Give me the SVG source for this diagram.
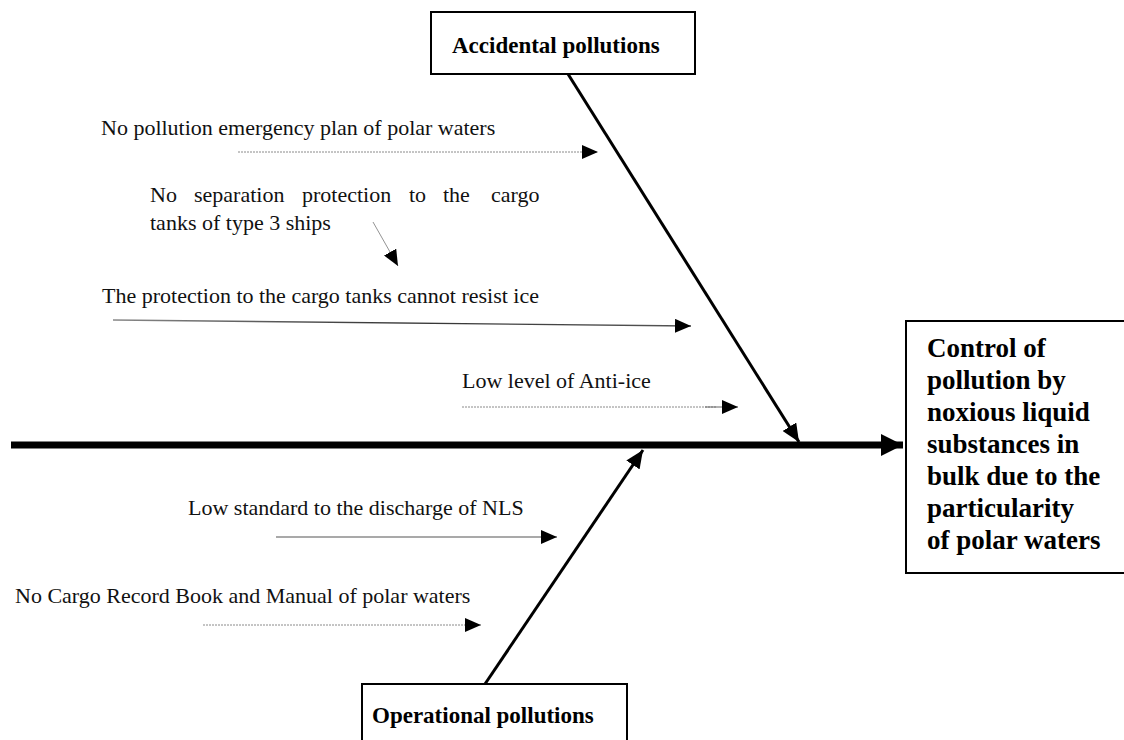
<svg xmlns="http://www.w3.org/2000/svg" width="1124" height="740" viewBox="0 0 1124 740">
  <style>
    .box { fill: #ffffff; stroke: #000000; stroke-width: 2; }
    .head { font-family: "Liberation Serif", "Times New Roman", serif; font-weight: bold; font-size: 23px; fill: #000; }
    .title { font-family: "Liberation Serif", "Times New Roman", serif; font-weight: bold; font-size: 27px; fill: #000; }
    .label { font-family: "Liberation Serif", "Times New Roman", serif; font-size: 22px; fill: #111; }
    .bone { stroke: #000; stroke-width: 3; fill: none; }
    .spine { stroke: #000; stroke-width: 7; fill: none; }
    .dotted { stroke: #8a8a8a; stroke-width: 1; stroke-dasharray: 2 1; fill: none; }
    .thin { stroke: url(#fadeIn); stroke-width: 1.4; fill: none; }
    .grey { stroke: #8c8c8c; stroke-width: 1.6; fill: none; }
    .hair { stroke: #777; stroke-width: 0.8; fill: none; }
    .stub { stroke: #666; stroke-width: 1.2; fill: none; }
  </style>
  <defs>
    <linearGradient id="fadeIn" gradientUnits="userSpaceOnUse" x1="113" y1="0" x2="691" y2="0">
      <stop offset="0" stop-color="#888"/>
      <stop offset="0.5" stop-color="#333"/>
      <stop offset="1" stop-color="#555"/>
    </linearGradient>
    <marker id="tipSmall" markerUnits="userSpaceOnUse" markerWidth="16" markerHeight="14" refX="16" refY="7" orient="auto">
      <path d="M0,0 L16,7 L0,14 Z" fill="#000"/>
    </marker>
    <marker id="tipBone" markerUnits="userSpaceOnUse" markerWidth="18" markerHeight="16" refX="18" refY="8" orient="auto">
      <path d="M0,0 L18,8 L0,16 Z" fill="#000"/>
    </marker>
    <marker id="tipSpine" markerUnits="userSpaceOnUse" markerWidth="22" markerHeight="22" refX="22" refY="11" orient="auto">
      <path d="M0,0 L22,11 L0,22 Z" fill="#000"/>
    </marker>
  </defs>

  <rect width="1124" height="740" fill="#ffffff"/>

  <!-- connectors: spine, main bones and cause arrows -->
  <g id="connectors">
    <line class="spine" x1="11" y1="445" x2="903" y2="445" marker-end="url(#tipSpine)"/>
    <line class="bone" x1="568" y1="74" x2="799" y2="442" marker-end="url(#tipBone)"/>
    <line class="bone" x1="485" y1="684" x2="643" y2="450" marker-end="url(#tipBone)"/>
    <line class="dotted" x1="238" y1="152" x2="598" y2="152" marker-end="url(#tipSmall)"/>
    <line class="hair" x1="373" y1="222" x2="398" y2="266" marker-end="url(#tipSmall)"/>
    <line class="thin" x1="113" y1="320" x2="691" y2="326" marker-end="url(#tipSmall)"/>
    <line class="dotted" x1="462" y1="407" x2="716" y2="407"/>
    <line class="stub" x1="705" y1="407" x2="738" y2="407" marker-end="url(#tipSmall)"/>
    <line class="grey" x1="276" y1="537" x2="557" y2="537" marker-end="url(#tipSmall)"/>
    <line class="dotted" x1="203" y1="625" x2="481" y2="625" marker-end="url(#tipSmall)"/>
  </g>

  <!-- category heads -->
  <g id="accidental">
    <rect class="box" x="431" y="12" width="264" height="62"/>
    <text class="head" x="452" y="53">Accidental pollutions</text>
  </g>
  <g id="operational">
    <rect class="box" x="362" y="684" width="265" height="70"/>
    <text class="head" x="372" y="723">Operational pollutions</text>
  </g>

  <!-- effect -->
  <g id="effect">
    <rect class="box" x="906" y="321" width="230" height="252"/>
    <text class="title" x="927">
      <tspan x="927" y="357">Control of</tspan>
      <tspan x="927" y="389">pollution by</tspan>
      <tspan x="927" y="421">noxious liquid</tspan>
      <tspan x="927" y="453">substances in</tspan>
      <tspan x="927" y="485">bulk due to the</tspan>
      <tspan x="927" y="517">particularity</tspan>
      <tspan x="927" y="549">of polar waters</tspan>
    </text>
  </g>

  <!-- causes -->
  <g id="cause-emergency-plan">
    <text class="label" x="101" y="135">No pollution emergency plan of polar waters</text>
  </g>
  <g id="cause-separation">
    <text class="label" y="202"><tspan x="150">No</tspan><tspan x="194">separation</tspan><tspan x="302">protection</tspan><tspan x="409">to</tspan><tspan x="443">the</tspan><tspan x="491">cargo</tspan></text>
    <text class="label" x="150" y="230">tanks of type 3 ships</text>
  </g>
  <g id="cause-ice-resistance">
    <text class="label" x="102" y="303">The protection to the cargo tanks cannot resist ice</text>
  </g>
  <g id="cause-anti-ice">
    <text class="label" x="462" y="388">Low level of Anti-ice</text>
  </g>
  <g id="cause-discharge">
    <text class="label" x="188" y="515">Low standard to the discharge of NLS</text>
  </g>
  <g id="cause-record-book">
    <text class="label" x="15" y="603">No Cargo Record Book and Manual of polar waters</text>
  </g>
</svg>
